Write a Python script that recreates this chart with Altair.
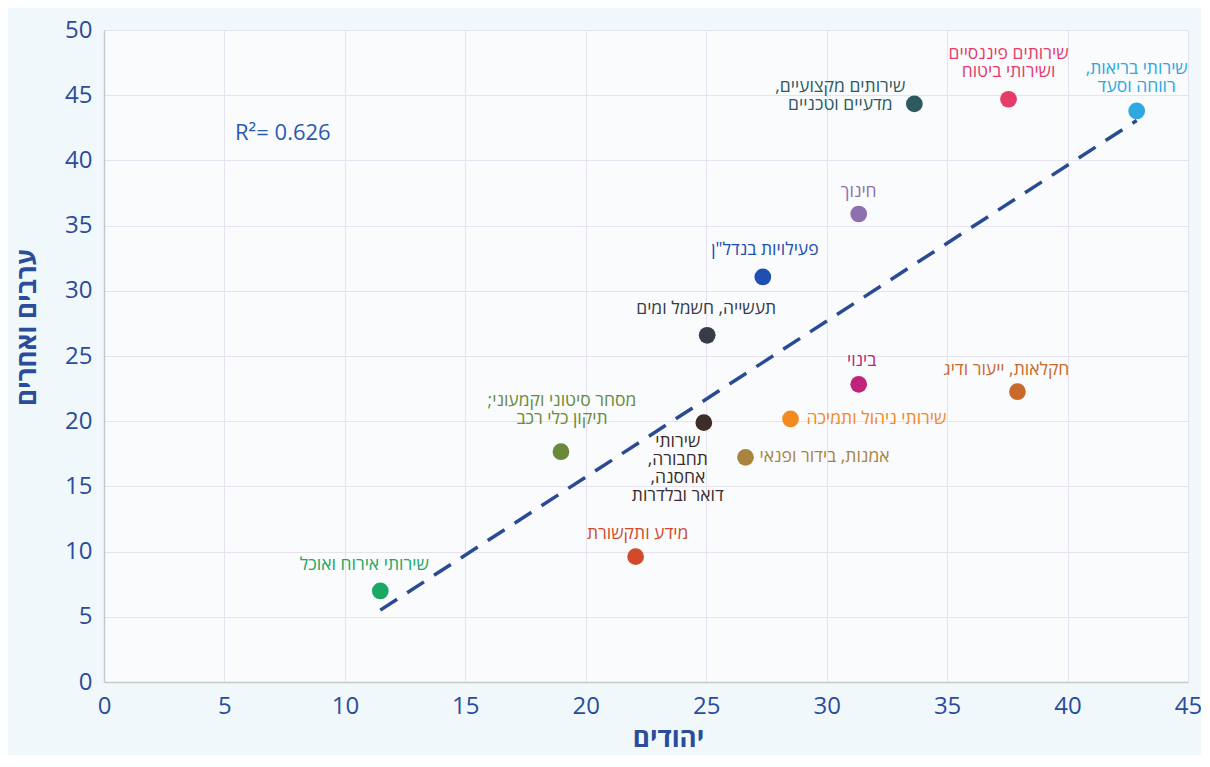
import altair as alt
import pandas as pd

# ---- data ----
sectors = [
    "אירוח", "מסחר", "מידע", "תחבורה", "תעשייה", "נדלן", "אמנות",
    "ניהול", "בינוי", "חינוך", "מקצועיים", "פיננסיים", "בריאות", "חקלאות",
]
labels = [
    "שירותי אירוח ואוכל",
    "מסחר סיטוני וקמעוני;\u200f\nתיקון כלי רכב",
    "מידע ותקשורת",
    "שירותי\nתחבורה,\u200f\nאחסנה,\u200f\nדואר ובלדרות",
    "תעשייה, חשמל ומים",
    "פעילויות בנדל\"ן",
    "אמנות, בידור ופנאי",
    "שירותי ניהול ותמיכה",
    "בינוי",
    "חינוך",
    "שירותים מקצועיים,\u200f\nמדעיים וטכניים",
    "שירותים פיננסיים\nושירותי ביטוח",
    "שירותי בריאות,\u200f\nרווחה וסעד",
    "חקלאות, ייעור ודיג",
]
jews = [11.47, 18.97, 22.07, 24.9, 25.04, 27.35, 26.63,
        28.5, 31.33, 31.33, 33.64, 37.55, 42.87, 37.92]
arabs = [6.98, 17.66, 9.61, 19.89, 26.59, 31.06, 17.23,
         20.17, 22.83, 35.89, 44.33, 44.69, 43.79, 22.26]
colors = ["#1aa864", "#6a8a3a", "#d04b2c", "#3d2c2a", "#363c48", "#1f4fb0", "#a8843c",
          "#f28a22", "#c0247a", "#8e70ae", "#2c5a5e", "#e63c6a", "#2ea8e0", "#c96a2a"]
r2_text = "R\u00b2= 0.626"

x_ticks = list(range(0, 46, 5))
y_ticks = list(range(0, 51, 5))

# ---- label placement (styling): align, dx, dy of first line ----
label_style = {
    "אירוח": ("center", -16, -26),
    "מסחר": ("center", 1, -51),
    "מידע": ("center", 2, -23),
    "תחבורה": ("center", -26, 19),
    "תעשייה": ("center", -1, -26),
    "נדלן": ("center", 2, -27),
    "אמנות": ("left", 14, 0),
    "ניהול": ("left", 16, 0),
    "בינוי": ("center", 3, -23),
    "חינוך": ("center", 0, -22),
    "מקצועיים": ("center", -74, -17),
    "פיננסיים": ("center", 0, -45),
    "בריאות": ("center", 0, -42),
    "חקלאות": ("center", -11, -22),
}

FONT = "Open Sans, DejaVu Sans, sans-serif"
AXIS_BLUE = "#2b4c9a"

df = pd.DataFrame({"sector": sectors, "label": labels, "jews": jews,
                   "arabs": arabs, "color": colors})

xscale = alt.Scale(domain=[0, 45], nice=False, zero=True)
yscale = alt.Scale(domain=[0, 50], nice=False, zero=True)

x_axis = alt.Axis(
    values=x_ticks, title="יהודים", labelFont=FONT, labelFontSize=24,
    labelFontWeight=500, labelColor=AXIS_BLUE, labelPadding=12, ticks=False,
    labelFlush=False, labelOverlap=False, domainColor="#c8c8c8", domainWidth=1.5,
    gridColor="#e6e2ef", gridWidth=1, titleFont=FONT, titleFontSize=26,
    titleFontWeight="bold", titleColor=AXIS_BLUE, titleX=564, titleY=64,
    titleAlign="center", titleBaseline="alphabetic",
)
y_axis = alt.Axis(
    values=y_ticks, title="ערבים ואחרים", labelFont=FONT, labelFontSize=24,
    labelFontWeight=500, labelColor=AXIS_BLUE, labelPadding=12, ticks=False,
    labelFlush=False, labelOverlap=False, domainColor="#c8c8c8", domainWidth=1.5,
    gridColor="#e6e2ef", gridWidth=1, titleFont=FONT, titleFontSize=26,
    titleFontWeight="bold", titleColor=AXIS_BLUE, titleX=-77, titleY=297,
    titleAngle=270, titleAlign="center", titleBaseline="middle",
)

base = alt.Chart(df)

trend = base.transform_regression("jews", "arabs").mark_line(
    color="#2b4a94", strokeWidth=3.5, strokeDash=[20, 12]
).encode(
    x=alt.X("jews:Q", scale=xscale, axis=x_axis),
    y=alt.Y("arabs:Q", scale=yscale, axis=y_axis),
)

points = base.mark_circle(size=280, opacity=1).encode(
    x=alt.X("jews:Q", scale=xscale),
    y=alt.Y("arabs:Q", scale=yscale),
    color=alt.Color("sector:N", scale=alt.Scale(domain=sectors, range=colors), legend=None),
)

text_layers = []
for i, s in enumerate(sectors):
    align, dx, dy = label_style[s]
    t = alt.Chart(df.iloc[[i]]).mark_text(
        align=align, baseline="middle", dx=dx, dy=dy, font=FONT,
        fontSize=17.5, fontWeight=500, lineHeight=18, lineBreak="\n", color=colors[i],
    ).encode(
        x=alt.X("jews:Q", scale=xscale),
        y=alt.Y("arabs:Q", scale=yscale),
        text="label:N",
    )
    text_layers.append(t)

r2_df = pd.DataFrame({"x": [5.44], "y": [42.1], "t": [r2_text]})
r2 = alt.Chart(r2_df).mark_text(
    align="left", baseline="middle", font=FONT, fontSize=22, fontWeight=500,
    color="#2a5ab0"
).encode(
    x=alt.X("x:Q", scale=xscale),
    y=alt.Y("y:Q", scale=yscale),
    text="t:N",
)

chart = alt.layer(trend, points, *text_layers, r2).properties(
    width=1084, height=652,
    padding={"left": 96, "top": 22, "right": 13, "bottom": 73},
    autosize=alt.AutoSizeParams(type="none"),
    background="#f1f8fc",
).configure_view(
    fill="#f9fbfd", stroke=None
)

chart.save("out.html", embed_options={"renderer": "svg", "actions": False})
